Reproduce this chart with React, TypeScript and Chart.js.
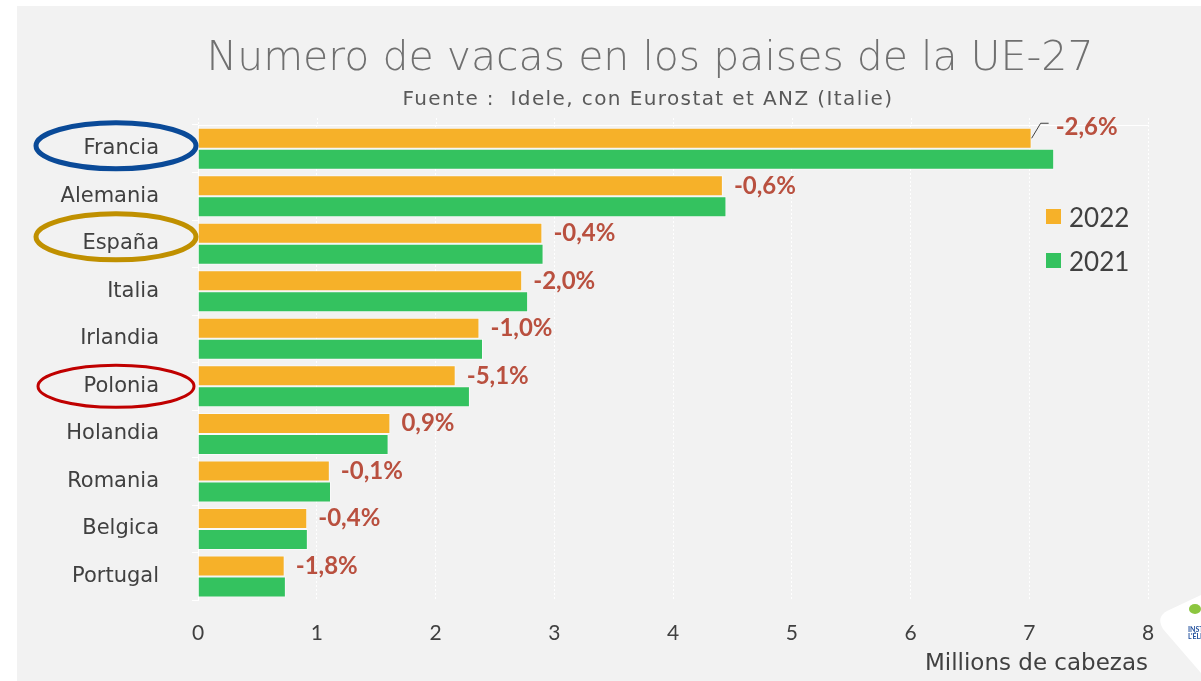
import React, { useEffect, useRef } from "react";
import { Chart, registerables } from "chart.js";

Chart.register(...registerables);

// ---------- data ----------
const countries = ["Francia", "Alemania", "España", "Italia", "Irlandia", "Polonia", "Holandia", "Romania", "Belgica", "Portugal"];
const cows2022 = [7.02, 4.42, 2.9, 2.73, 2.37, 2.17, 1.62, 1.11, 0.92, 0.73];
const cows2021 = [7.21, 4.45, 2.91, 2.78, 2.4, 2.29, 1.605, 1.12, 0.925, 0.74];
const changeLabels = ["-2,6%", "-0,6%", "-0,4%", "-2,0%", "-1,0%", "-5,1%", "0,9%", "-0,1%", "-0,4%", "-1,8%"];
const seriesNames = ["2022", "2021"];
const xTickValues = [0, 1, 2, 3, 4, 5, 6, 7, 8];
const highlightedCountries = ["Francia", "España", "Polonia"];
const titleText = "Numero de vacas en los paises de la UE-27";
const subtitleText = "Fuente :  Idele, con Eurostat et ANZ (Italie)";
const xAxisTitle = "Millions de cabezas";

// ---------- styles ----------
const GOTHIC = "'DejaVu Sans', 'Noto Sans', sans-serif";
const LATO = "Lato, 'Noto Sans', sans-serif";
const ORANGE = "#f6b129";
const GREEN = "#34c25f";
const TEXT = "#404040";
const LABEL_RED = "#b9503f";

const decorPlugin = {
  id: "decor",
  beforeDatasetsDraw(chart: any) {
    const { ctx, chartArea } = chart;
    const xScale = chart.scales.x;
    ctx.save();
    ctx.strokeStyle = "#ffffff";
    ctx.lineWidth = 1;
    ctx.beginPath();
    ctx.moveTo(chartArea.left, chartArea.top + 0.5);
    ctx.lineTo(chartArea.right, chartArea.top + 0.5);
    ctx.stroke();
    // small extension of the dotted grid above the plot
    ctx.setLineDash([2, 2]);
    xScale.ticks.forEach((t: any) => {
      const px = Math.round(xScale.getPixelForValue(t.value)) + 0.5;
      ctx.beginPath();
      ctx.moveTo(px, chartArea.top - 7);
      ctx.lineTo(px, chartArea.top);
      ctx.stroke();
    });
    ctx.restore();
  },
  afterDraw(chart: any) {
    const { ctx, chartArea } = chart;
    const yScale = chart.scales.y;
    const meta0 = chart.getDatasetMeta(0);
    const midX = (chartArea.left + chartArea.right) / 2;
    ctx.save();

    // title + subtitle
    ctx.textAlign = "center";
    ctx.textBaseline = "alphabetic";
    ctx.fillStyle = "#707070";
    ctx.font = `200 41px ${GOTHIC}`;
    ctx.fillText(titleText, midX - 23, 64);
    ctx.fillStyle = "#595959";
    ctx.font = `20px ${GOTHIC}`;
    (ctx as any).letterSpacing = "1.4px";
    ctx.fillText(subtitleText, midX - 25, 99);
    (ctx as any).letterSpacing = "0px";

    // value change labels
    ctx.font = `bold 24px ${LATO}`;
    ctx.fillStyle = LABEL_RED;
    ctx.textAlign = "left";
    ctx.textBaseline = "middle";
    meta0.data.forEach((bar: any, i: number) => {
      const p = bar.getProps(["x", "y"], true);
      let lx = p.x + 11;
      let ly = p.y;
      if (i === 0) {
        ctx.save();
        ctx.strokeStyle = "#404040";
        ctx.lineWidth = 1;
        ctx.beginPath();
        ctx.moveTo(p.x, p.y);
        ctx.lineTo(p.x + 9, p.y - 15);
        ctx.lineTo(p.x + 17, p.y - 15);
        ctx.stroke();
        ctx.restore();
        lx = p.x + 24;
        ly = p.y - 11;
      }
      ctx.fillText(changeLabels[i], lx, ly);
    });

    // highlight ellipses
    const ellipseStyles: Record<string, any> = {
      Francia: { color: "#0a4a98", lw: 5, rx: 80, ry: 23, dy: -3 },
      "España": { color: "#c09000", lw: 5, rx: 80, ry: 23, dy: -7 },
      Polonia: { color: "#c00000", lw: 3, rx: 78, ry: 21, dy: 0 },
    };
    highlightedCountries.forEach((c) => {
      const idx = countries.indexOf(c);
      const st = ellipseStyles[c];
      const cy = yScale.getPixelForValue(idx) + st.dy;
      const cx = chartArea.left - 82;
      ctx.beginPath();
      ctx.ellipse(cx, cy, st.rx, st.ry, 0, 0, Math.PI * 2);
      ctx.strokeStyle = st.color;
      ctx.lineWidth = st.lw;
      ctx.stroke();
    });

    // legend
    chart.data.datasets.forEach((ds: any, i: number) => {
      const sx = chartArea.right - 102;
      const sy = 203 + i * 44;
      ctx.fillStyle = ds.backgroundColor;
      ctx.fillRect(sx, sy, 15, 15);
      ctx.fillStyle = TEXT;
      ctx.font = `26px ${LATO}`;
      ctx.textBaseline = "middle";
      ctx.textAlign = "left";
      ctx.fillText(ds.label, sx + 23, sy + 10);
    });

    // logo (partial, cut by the edge)
    const W = chart.width;
    const H = chart.height;
    ctx.fillStyle = "#ffffff";
    ctx.beginPath();
    ctx.moveTo(W, H - 86);
    ctx.lineTo(W - 34, H - 70);
    ctx.quadraticCurveTo(W - 45, H - 64, W - 38, H - 52);
    ctx.lineTo(W, H - 8);
    ctx.closePath();
    ctx.fill();
    ctx.fillStyle = "#8cc63f";
    ctx.beginPath();
    ctx.ellipse(W - 6, H - 72, 6, 5, 0, 0, Math.PI * 2);
    ctx.fill();
    ctx.fillStyle = "#1f4e9c";
    ctx.font = `bold 7px ${LATO}`;
    ctx.textAlign = "left";
    ctx.fillText("INSTITUT", W - 13, H - 51);
    ctx.fillText("L'ÉLEVAGE", W - 13, H - 44);
    ctx.restore();
  },
};

export default function App() {
  const canvasRef = useRef<HTMLCanvasElement | null>(null);

  useEffect(() => {
    if (!canvasRef.current) return;
    const chart = new Chart(canvasRef.current, {
      type: "bar",
      data: {
        labels: countries,
        datasets: [
          { label: seriesNames[0], data: cows2022, backgroundColor: ORANGE, borderColor: "rgba(255,255,255,0.55)", borderWidth: 1 },
          { label: seriesNames[1], data: cows2021, backgroundColor: GREEN, borderColor: "rgba(255,255,255,0.55)", borderWidth: 1 },
        ],
      },
      options: {
        indexAxis: "y",
        responsive: false,
        animation: false,
        devicePixelRatio: 1,
        layout: { padding: { left: 0, right: 53, top: 119, bottom: 0 } },
        datasets: { bar: { categoryPercentage: 0.884, barPercentage: 1 } },
        plugins: {
          legend: { display: false },
          tooltip: { enabled: false },
          title: { display: false },
        },
        scales: {
          x: {
            min: 0,
            max: 8,
            afterBuildTicks: (s: any) => {
              s.ticks = xTickValues.map((v) => ({ value: v }));
            },
            ticks: { color: TEXT, font: { family: LATO, size: 21 }, padding: 20 },
            grid: { color: "#ffffff", drawTicks: false, lineWidth: 1 },
            border: { display: false, dash: [2, 2] },
            title: {
              display: true,
              text: xAxisTitle,
              align: "end",
              color: TEXT,
              font: { family: GOTHIC, size: 23, weight: "normal" },
              padding: { top: -15, bottom: 3 },
            },
          },
          y: {
            ticks: { color: TEXT, font: { family: GOTHIC, size: 21 }, padding: 33 },
            grid: { drawOnChartArea: false, color: "#ffffff", tickLength: 6 },
            border: { color: "#ffffff" },
            afterFit: (s: any) => {
              s.width = 181;
            },
          },
        },
      },
      plugins: [decorPlugin],
    } as any);
    return () => chart.destroy();
  }, []);

  return (
    <div style={{ position: "fixed", left: 0, top: 0, width: 1201, height: 681, background: "#ffffff", overflow: "hidden" }}>
      <div style={{ position: "absolute", left: 17, top: 6, width: 1184, height: 675, background: "#f2f2f2" }}>
        <canvas ref={canvasRef} width={1184} height={675} style={{ display: "block", width: 1184, height: 675 }} />
      </div>
    </div>
  );
}
